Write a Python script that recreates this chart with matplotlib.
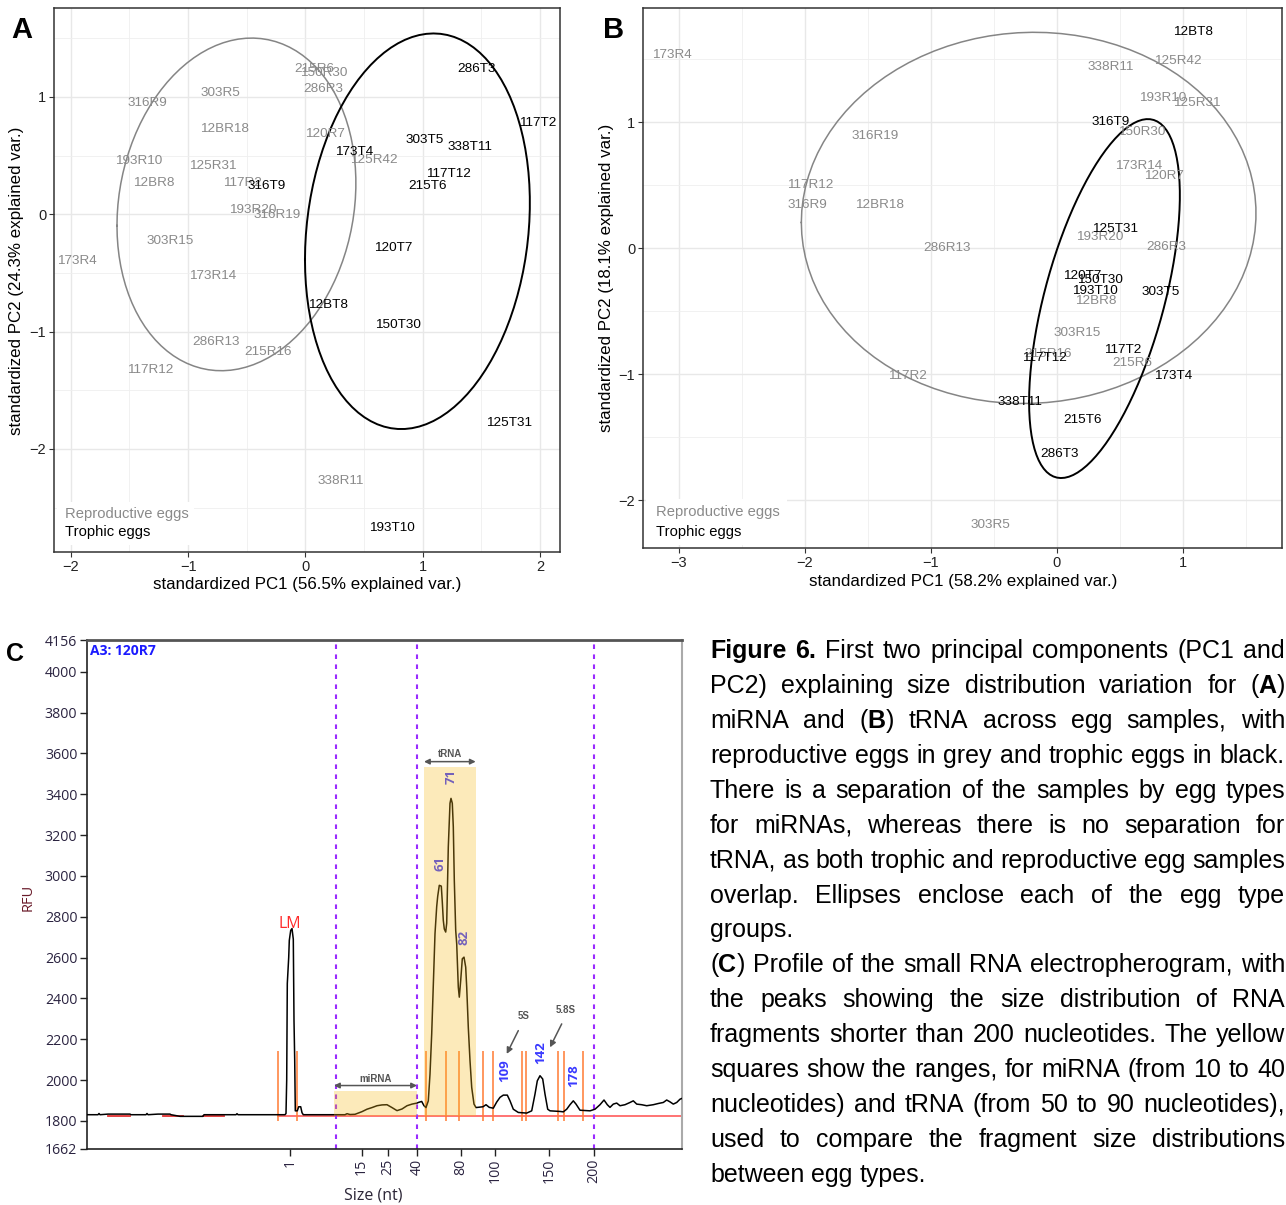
import numpy as np
import matplotlib
matplotlib.use("Agg")
import matplotlib.pyplot as plt
from matplotlib.patches import Rectangle

W, H = 1286, 1205
GREY = "#8a8a8a"
plt.rcParams["font.family"] = ["Liberation Sans", "DejaVu Sans"]

# ---------------- A: miRNA size distribution, PCA scores ----------------
a_rep_lab = ["215R6", "150R30", "286R3", "316R9", "303R5", "12BR18", "120R7",
             "193R10", "125R31", "125R42", "12BR8", "117R2", "193R20", "316R19",
             "303R15", "173R4", "173R14", "286R13", "215R16", "117R12", "338R11"]
a_rep_pc1 = [0.08, 0.16, 0.15, -1.35, -0.72, -0.69, 0.17, -1.42, -0.79, 0.58, -1.29,
             -0.54, -0.45, -0.24, -1.15, -1.95, -0.79, -0.76, -0.32, -1.32, 0.30]
a_rep_pc2 = [1.24, 1.20, 1.07, 0.95, 1.03, 0.73, 0.68, 0.45, 0.41, 0.46, 0.27,
             0.27, 0.04, -0.01, -0.23, -0.40, -0.53, -1.09, -1.17, -1.33, -2.27]
a_tro_lab = ["286T3", "117T2", "303T5", "338T11", "173T4", "117T12", "215T6",
             "316T9", "120T7", "12BT8", "150T30", "125T31", "193T10"]
a_tro_pc1 = [1.46, 1.98, 1.02, 1.40, 0.42, 1.22, 1.04, -0.33, 0.75, 0.19, 0.79, 1.74, 0.74]
a_tro_pc2 = [1.24, 0.78, 0.63, 0.57, 0.53, 0.34, 0.24, 0.24, -0.29, -0.77, -0.94, -1.78, -2.67]

# ---------------- B: tRNA size distribution, PCA scores ----------------
b_rep_lab = ["173R4", "338R11", "125R42", "193R10", "125R31", "150R30", "316R19",
             "173R14", "120R7", "117R12", "316R9", "12BR18", "193R20", "286R13",
             "286R3", "12BR8", "303R15", "215R16", "215R6", "117R2", "303R5"]
b_rep_pc1 = [-3.06, 0.43, 0.96, 0.84, 1.11, 0.67, -1.44, 0.65, 0.85, -1.96, -1.98,
             -1.41, 0.34, -0.87, 0.87, 0.31, 0.16, -0.07, 0.60, -1.19, -0.53]
b_rep_pc2 = [1.53, 1.44, 1.49, 1.19, 1.15, 0.92, 0.89, 0.65, 0.57, 0.50, 0.34,
             0.34, 0.09, 0.00, 0.01, -0.42, -0.67, -0.84, -0.91, -1.01, -2.20]
b_tro_lab = ["12BT8", "316T9", "125T31", "120T7", "150T30", "193T10", "303T5",
             "117T2", "117T12", "173T4", "338T11", "215T6", "286T3"]
b_tro_pc1 = [1.08, 0.43, 0.46, 0.20, 0.34, 0.30, 0.82, 0.52, -0.10, 0.92, -0.29, 0.20, 0.02]
b_tro_pc2 = [1.72, 1.00, 0.15, -0.22, -0.25, -0.34, -0.35, -0.81, -0.87, -1.01, -1.22, -1.36, -1.63]

# ---------------- C: electropherogram of sample 120R7 ----------------
ladder_nt = [1, 15, 25, 40, 80, 100, 150, 200]
ladder_min = [20.3, 27.45, 30.1, 33.0, 37.35, 40.8, 46.2, 50.7]
rfu_ticks = [1662, 1800, 2000, 2200, 2400, 2600, 2800, 3000, 3200, 3400,
             3600, 3800, 4000, 4156]

trace_min = [0.0, 1.1, 1.2, 1.3, 2.1, 4.3, 4.4, 5.9, 6.0, 6.1, 7.1, 8.3, 8.4, 9.3,
             11.6, 11.7, 14.9, 15.0, 15.1, 19.8,
             19.9, 19.97, 20.03, 20.17, 20.23, 20.37, 20.5, 20.63, 20.7, 20.77,
             20.83, 21.03, 21.17, 21.37, 21.5, 21.63,
             25.8, 26.0, 26.3, 26.8, 27.5, 28.0, 28.5, 29.0, 29.5, 30.0, 30.5, 31.0,
             31.5, 32.0, 32.5, 33.0, 33.13, 33.47, 33.7, 33.9,
             34.13, 34.3, 34.47, 34.63, 34.8, 34.97, 35.07, 35.23, 35.43, 35.53,
             35.63, 35.73, 35.87, 35.97, 36.13, 36.3, 36.4, 36.53, 36.63, 36.73,
             36.87, 36.97, 37.13, 37.23, 37.37, 37.53, 37.7, 37.87, 37.97, 38.13,
             38.3, 38.47, 38.7, 38.9,
             39.6, 39.9, 40.23, 40.63, 40.97, 41.3, 41.63, 42.03, 42.3, 42.63,
             43.13, 43.97, 44.47, 44.8, 45.03, 45.3, 45.57, 45.8, 46.07, 46.3,
             47.3, 47.63, 47.97, 48.3, 48.63, 48.9, 49.3, 50.3, 50.8, 51.3,
             51.7, 52.03, 52.3, 52.63, 52.97, 53.3, 53.8, 54.3, 54.63, 54.97,
             55.47, 55.97, 56.63, 57.13, 57.63, 57.97, 58.3, 58.63, 58.97, 59.3, 59.5]
trace_rfu = [1830, 1830, 1836, 1830, 1833, 1833, 1830, 1830, 1836, 1830, 1833, 1833,
             1830, 1822, 1822, 1830, 1830, 1835, 1830, 1830,
             1836, 2000, 2473, 2600, 2684, 2733, 2742, 2690, 2291, 2100,
             1849, 1849, 1869, 1869, 1840, 1830,
             1830, 1835, 1831, 1832, 1845, 1857, 1865, 1874, 1878, 1879, 1865, 1850,
             1858, 1874, 1882, 1887, 1890, 1895, 1874, 1865,
             1898, 2029, 2226, 2471, 2717, 2850, 2900, 2954, 2950, 2872,
             2782, 2740, 2725, 2768, 3142, 3356, 3380, 3356, 3241, 2979,
             2733, 2668, 2455, 2406, 2488, 2594, 2602, 2553, 2455, 2258,
             2095, 1964, 1882, 1865,
             1869, 1879, 1866, 1862, 1892, 1915, 1926, 1926, 1898, 1857,
             1841, 1838, 1849, 1931, 1996, 2021, 2005, 1931, 1857, 1849,
             1846, 1844, 1857, 1879, 1898, 1882, 1852, 1849, 1857, 1879,
             1902, 1879, 1866, 1882, 1887, 1874, 1879, 1890, 1898, 1882,
             1879, 1874, 1879, 1885, 1890, 1902, 1893, 1882, 1890, 1906, 1910]

baseline_rfu = 1822
baseline_patches = [(2.1, 4.3), (7.6, 9.6), (11.6, 13.7)]
peak_bounds_min = [19.13, 21.03, 33.87, 35.87, 37.23, 39.57, 40.63, 43.47, 43.9,
                   47.07, 47.73, 49.63]
range_lines_nt = [10, 40, 200]
peak_nt = [61, 71, 82, 109, 142, 178]
peak_label_rfu = [3061, 3486, 2700, 2046, 2135, 2021]
mirna_box = (24.7, 33.0, 1826, 1944)
trna_box = (33.7, 38.87, 1826, 3535)

caption_lines = [
    "**Figure 6.** First two principal components (PC1 and",
    "PC2) explaining size distribution variation for (**A**)",
    "miRNA and (**B**) tRNA across egg samples, with",
    "reproductive eggs in grey and trophic eggs in black.",
    "There is a separation of the samples by egg types",
    "for miRNAs, whereas there is no separation for",
    "tRNA, as both trophic and reproductive egg samples",
    "overlap. Ellipses enclose each of the egg type",
    "groups.",
    "(**C**) Profile of the small RNA electropherogram, with",
    "the peaks showing the size distribution of RNA",
    "fragments shorter than 200 nucleotides. The yellow",
    "squares show the ranges, for miRNA (from 10 to 40",
    "nucleotides) and tRNA (from 50 to 90 nucleotides),",
    "used to compare the fragment size distributions",
    "between egg types.",
]
caption_ragged = {8, 15}


def box(l, t, r, b):
    return [l / W, 1 - b / H, (r - l) / W, (b - t) / H]


def norm_ellipse(x, y, prob=0.68, n=100):
    # same construction as ggbiplot: chol of covariance scaled by chi2 quantile
    xy = np.column_stack([x, y])
    mu = xy.mean(axis=0)
    sigma = np.cov(xy, rowvar=False)
    ed = np.sqrt(-2 * np.log(1 - prob))
    th = np.linspace(-np.pi, np.pi, n)
    circle = np.column_stack([np.cos(th), np.sin(th)])
    return circle @ np.linalg.cholesky(sigma).T * ed + mu


def pca_panel(ax, rep, tro, xlim, ylim, xmaj, ymaj, xmin, ymin, legend_box):
    ax.set_xlim(*xlim)
    ax.set_ylim(*ylim)
    ax.set_xticks(xmaj)
    ax.set_yticks(ymaj)
    ax.set_xticks(xmin, minor=True)
    ax.set_yticks(ymin, minor=True)
    ax.grid(which="major", color="#e8e8e8", lw=1.0)
    ax.grid(which="minor", color="#efefef", lw=0.6)
    ax.set_axisbelow(True)
    ax.tick_params(which="minor", length=0)
    ax.tick_params(which="major", length=3.5, width=0.8, color="#333333",
                   labelsize=10.5, labelcolor="#222222", pad=2)
    for s in ax.spines.values():
        s.set_color("#333333")
        s.set_linewidth(1.1)
    for (lab, x, y), col in ((rep, GREY), (tro, "black")):
        for t, xi, yi in zip(lab, x, y):
            ax.text(xi, yi, t, color=col, fontsize=9.7, ha="center", va="center")
    e = norm_ellipse(rep[1], rep[2])
    ax.plot(e[:, 0], e[:, 1], color="#858585", lw=1.1)
    e = norm_ellipse(tro[1], tro[2])
    ax.plot(e[:, 0], e[:, 1], color="black", lw=1.4)
    l, b, w, h = legend_box
    ax.add_patch(Rectangle((l, b), w, h, transform=ax.transAxes,
                           facecolor="white", edgecolor="none", zorder=3))
    ax.text(l + 0.016, b + h * 0.72, "Reproductive eggs", transform=ax.transAxes,
            color=GREY, fontsize=10.6, va="center", zorder=4)
    ax.text(l + 0.016, b + h * 0.3, "Trophic eggs", transform=ax.transAxes,
            color="black", fontsize=10.6, va="center", zorder=4)


fig = plt.figure(figsize=(W / 100, H / 100), dpi=100)

axa = fig.add_axes(box(54, 8, 560, 552))
pca_panel(axa, (a_rep_lab, a_rep_pc1, a_rep_pc2), (a_tro_lab, a_tro_pc1, a_tro_pc2),
          (-2.143, 2.171), (-2.878, 1.758), [-2, -1, 0, 1, 2], [-2, -1, 0, 1],
          [-1.5, -0.5, 0.5, 1.5], [-2.5, -1.5, -0.5, 0.5, 1.5],
          (0.006, 0.012, 0.27, 0.08))
fig.text(307 / W, 1 - 584 / H, "standardized PC1 (56.5% explained var.)",
         ha="center", va="center", fontsize=12.2)
fig.text(17 / W, 1 - 281 / H, "standardized PC2 (24.3% explained var.)",
         ha="center", va="center", fontsize=12.2, rotation=90)

axb = fig.add_axes(box(643, 8, 1282, 548))
pca_panel(axb, (b_rep_lab, b_rep_pc1, b_rep_pc2), (b_tro_lab, b_tro_pc1, b_tro_pc2),
          (-3.286, 1.786), (-2.379, 1.907), [-3, -2, -1, 0, 1], [-2, -1, 0, 1],
          [-2.5, -1.5, -0.5, 0.5, 1.5], [-1.5, -0.5, 0.5, 1.5],
          (0.005, 0.005, 0.22, 0.085))
fig.text(963 / W, 1 - 581 / H, "standardized PC1 (58.2% explained var.)",
         ha="center", va="center", fontsize=12.2)
fig.text(606 / W, 1 - 278 / H, "standardized PC2 (18.1% explained var.)",
         ha="center", va="center", fontsize=12.2, rotation=90)

fig.text(22 / W, 1 - 30 / H, "A", fontsize=21, fontweight="bold", ha="center", va="center")
fig.text(614 / W, 1 - 30 / H, "B", fontsize=21, fontweight="bold", ha="center", va="center")
fig.text(15 / W, 1 - 654 / H, "C", fontsize=18, fontweight="bold", ha="center", va="center")

# ---------------- C ----------------
CFONT = ["Open Sans", "DejaVu Sans"]
axc = fig.add_axes(box(87, 640, 682, 1149))
axc.set_xlim(0, 59.5)
axc.set_ylim(rfu_ticks[0], rfu_ticks[-1])
axc.set_yticks(rfu_ticks)
axc.set_yticklabels([str(v) for v in rfu_ticks], family=CFONT)
axc.set_xticks(ladder_min)
axc.set_xticklabels([str(v) for v in ladder_nt], rotation=90, family=CFONT)
axc.tick_params(length=5, width=1, color="#222222", labelsize=10.2,
                labelcolor="#2a2340", pad=2)
axc.spines["left"].set_color("#222222")
axc.spines["bottom"].set_color("#222222")
axc.spines["left"].set_linewidth(1.2)
axc.spines["bottom"].set_linewidth(1.2)
axc.spines["top"].set_color("#555555")
axc.spines["top"].set_linewidth(2.0)
axc.spines["right"].set_color("#aaaaaa")
axc.spines["right"].set_linewidth(1.5)

axc.plot([peak_bounds_min[0], 59.5], [baseline_rfu] * 2, color="#ff4d4d", lw=1.1, zorder=2)
for a, b in baseline_patches:
    axc.plot([a, b], [baseline_rfu + 2] * 2, color="#e03030", lw=1.3, zorder=2)
axc.vlines(peak_bounds_min, 1800, 2144, color="#ff7a33", lw=1.1, zorder=2)
for v in np.interp(range_lines_nt, ladder_nt, ladder_min):
    axc.axvline(v, color="#9a2bff", lw=1.5, ls=(0, (2.2, 2.6)), zorder=2)
axc.plot(trace_min, trace_rfu, color="black", lw=1.1, zorder=3)

peak_x = np.interp(peak_nt, ladder_nt, ladder_min)
for x, y, n in zip(peak_x, peak_label_rfu, peak_nt):
    axc.text(x, y, str(n), rotation=90, color="#3a3aff", fontsize=9.5,
             fontweight="bold", ha="center", va="center", family=CFONT, zorder=4)

for x0, x1, y0, y1 in (mirna_box, trna_box):
    axc.add_patch(Rectangle((x0, y0), x1 - x0, y1 - y0, facecolor="#f8bc1c",
                            alpha=0.3, edgecolor="none", zorder=5))

axc.text(ladder_min[0], 2763, "LM", color="#ff2a2a", fontsize=11.5,
         ha="center", va="center", family=CFONT, zorder=6)
axc.text(0.3, 4100, "A3: 120R7", color="#1a1aff", fontsize=10, fontweight="bold",
         ha="left", va="center", family=CFONT, zorder=6)

arrow = dict(arrowstyle="<|-|>", color="#555555", lw=1.1, mutation_scale=8,
             shrinkA=0, shrinkB=0)
axc.annotate("", xy=(mirna_box[0], 1973), xytext=(mirna_box[1], 1973), arrowprops=arrow)
axc.text((mirna_box[0] + mirna_box[1]) / 2, 2004, "miRNA", color="#555555",
         fontsize=7, fontweight="bold", ha="center", va="center")
axc.annotate("", xy=(trna_box[0], 3560), xytext=(trna_box[1], 3560), arrowprops=arrow)
axc.text((trna_box[0] + trna_box[1]) / 2, 3598, "tRNA", color="#555555",
         fontsize=7, fontweight="bold", ha="center", va="center")
single = dict(arrowstyle="-|>", color="#555555", lw=1.1, mutation_scale=9,
              shrinkA=0, shrinkB=0)
axc.annotate("", xy=(41.97, 2128), xytext=(43.13, 2242), arrowprops=single)
axc.text(43.63, 2312, "5S", color="#555555", fontsize=7, fontweight="bold",
         ha="center", va="center")
axc.annotate("", xy=(46.3, 2160), xytext=(47.47, 2275), arrowprops=single)
axc.text(47.9, 2344, "5.8S", color="#555555", fontsize=7, fontweight="bold",
         ha="center", va="center")

fig.text(28 / W, 1 - 897 / H, "RFU", rotation=90, color="#6a1b2a", fontsize=10.5,
         ha="center", va="center", family=CFONT)
fig.text(373 / W, 1 - 1195 / H, "Size (nt)", color="#2b2536", fontsize=11.5,
         ha="center", va="center", family=CFONT)


# ---------------- caption, justified ----------------
def split_words(line):
    words = [[]]
    for k, part in enumerate(line.split("**")):
        bold = k % 2 == 1
        for j, p in enumerate(part.split(" ")):
            if j > 0:
                words.append([])
            if p:
                words[-1].append((p, bold))
    return [w for w in words if w]


def draw_caption(lines, x0, x1, y_first, step, size):
    r = fig.canvas.get_renderer()

    def put(s, bold, y):
        t = fig.text(0, 1 - y / H, s, fontsize=size, va="center", ha="left",
                     fontweight="bold" if bold else "normal")
        return t, t.get_window_extent(r).width

    probe = [put(s, False, 0) for s in ("aa", "a a")]
    space = probe[1][1] - probe[0][1]
    for t, _ in probe:
        t.remove()

    for i, line in enumerate(lines):
        y = y_first + i * step
        placed = [[put(s, b, y) for s, b in word] for word in split_words(line)]
        widths = [sum(w for _, w in runs) for runs in placed]
        if i in caption_ragged or len(placed) == 1:
            gap = space
        else:
            gap = (x1 - x0 - sum(widths)) / (len(placed) - 1)
        x = x0
        for runs, wd in zip(placed, widths):
            xr = x
            for t, w in runs:
                t.set_x(xr / W)
                xr += w
            x += wd + gap


draw_caption(caption_lines, 710, 1285, 651, 34.93, 18)

fig.savefig("out.png", dpi=100)
